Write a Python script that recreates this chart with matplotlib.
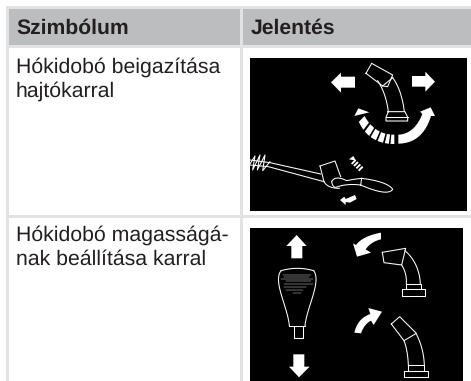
import matplotlib
matplotlib.use("Agg")
import matplotlib.pyplot as plt
from matplotlib.patches import Polygon, Rectangle
import numpy as np

plt.rcParams['font.family'] = ['Liberation Sans', 'DejaVu Sans']
plt.rcParams['text.hinting'] = 'no_hinting'

headers = ["Szimbólum", "Jelentés"]
row_labels = ["Hókidobó beigazítása\nhajtókarral", "Hókidobó magasságá-\nnak beállítása karral"]
TEXT = "#231f20"; HEAD = "#bcbdbf"; RULE = "#e1e2e3"

fig = plt.figure(figsize=(4.71, 3.81), dpi=100)
ax = fig.add_axes([0, 0, 1, 1])
ax.set_xlim(0, 471); ax.set_ylim(381, 0); ax.axis("off")

def rect(x0, y0, x1, y1, c, z=1):
    ax.add_patch(Rectangle((x0, y0), x1-x0, y1-y0, fc=c, ec="none", zorder=z))

# table frame
rect(6, 6, 471, 9, RULE)
rect(8, 9, 471, 44.5, HEAD)
rect(6, 44.5, 471, 47.5, RULE)
rect(6, 6, 8.5, 381, RULE)
rect(240, 6, 242.5, 381, RULE, 2)
rect(6, 215, 471, 217.7, RULE)
rect(250.3, 58.3, 466.7, 210.5, "black", 2)
rect(250.3, 228.3, 463, 381, "black", 2)

ax.text(16, 34, headers[0], fontsize=15.2, fontweight="bold", color=TEXT, ha="left", va="baseline", zorder=5)
ax.text(250.5, 34, headers[1], fontsize=15.2, fontweight="bold", color=TEXT, ha="left", va="baseline", zorder=5)
for y, s in zip((73, 241), row_labels):
    ax.text(16, y, s.split("\n")[0], fontsize=15.3, color=TEXT, va="baseline", zorder=5)
    ax.text(16, y+24, s.split("\n")[1], fontsize=15.3, color=TEXT, va="baseline", zorder=5)

# zoom-space helpers: icon outlines were read at 3x
def conv(pts, oy):
    a = np.asarray(pts, float)
    return np.c_[231 + a[:, 0]/3, oy + a[:, 1]/3]

def fill(pts, oy):
    ax.add_patch(Polygon(conv(pts, oy), closed=True, fc="white", ec="none", zorder=4))

def line(pts, oy, lw=0.75):
    p = conv(pts, oy)
    ax.plot(p[:, 0], p[:, 1], color="white", lw=lw, zorder=4, solid_joinstyle="round")

def smooth(pts, n=30):
    P = np.asarray(pts, float)
    t = np.linspace(0, 1, n)[:, None]
    if len(P) == 3:
        return (1-t)**2*P[0] + 2*(1-t)*t*P[1] + t**2*P[2]
    return (1-t)**3*P[0] + 3*(1-t)**2*t*P[1] + 3*(1-t)*t**2*P[2] + t**3*P[3]

# --- first picture
Y1 = 40
fill([(300,127),(330,98),(330,110),(372,110),(372,143),(330,143),(330,158)], Y1)
fill([(612,125),(583,95),(583,108),(543,108),(543,140),(583,140),(583,155)], Y1)
line([(405,100),(422,70),(485,105),(470,140),(455,138),(405,100)], Y1)
line([(455,138),(485,113)], Y1)
line(smooth([(440,122),(465,160),(472,215)]), Y1)
line(smooth([(485,113),(512,150),(520,215)]), Y1)
line([(470,215),(522,215),(530,232),(530,243),(465,243),(465,232),(472,215)], Y1)
line([(465,232),(530,232)], Y1)

outer = smooth([(502,311),(575,310),(600,228)])
inner = smooth([(502,284),(550,282),(574,222)])
fill(np.vstack([outer, [(612,228),(599,202),(567,215)], inner[::-1]]), Y1)

# dashed returning arrow
dash_outer = smooth([(490,312),(412,312),(382,242)], 120)
dash_inner = smooth([(490,284),(430,284),(399,225)], 120)
for a, b in [(0,10),(13,24),(28,44),(48,66),(70,88),(93,117)]:
    fill(np.vstack([dash_outer[a:b], dash_inner[a:b][::-1]]), Y1)
fill([(370,228),(382,205),(415,217)], Y1)

# crank
line([(57,360),(117,368),(269,402)], Y1)
line([(57,375),(112,380),(279,425)], Y1)
line([(57,372),(72,348),(65,390),(87,345),(79,390),(102,345),(95,392),(117,365)], Y1)
line([(267,378),(312,363),(329,410)], Y1)
line(np.vstack([[(267,378),(279,425)], smooth([(279,425),(290,445),(325,445)])]), Y1)
line(np.vstack([smooth([(302,425),(312,405),(347,422)]), smooth([(347,422),(365,418),(392,415)])]), Y1)
line(np.vstack([smooth([(302,425),(305,442),(315,442)]), smooth([(315,442),(345,430),(389,435)])]), Y1)
line([(392,415),(389,435)], Y1)
line(np.vstack([smooth([(392,415),(470,425),(485,448)]), smooth([(485,448),(470,470),(389,435)])]), Y1)
# small arrows by the crank
fill([(327,480),(340,470),(344,477),(372,465),(377,477),(357,488),(344,486),(344,495)], Y1)
fill([(354,358),(367,348),(375,362)], Y1)
for cx, cy in [(368,366),(375,372),(382,379),(389,386)]:
    fill([(cx-8,cy+4),(cx+4,cy-8),(cx+8,cy-4),(cx-4,cy+8)], Y1)

# --- second picture
Y2 = 210
fill([(197,75),(227,108),(214,108),(214,145),(181,145),(181,108),(166,108)], Y2)
fill([(204,502),(174,470),(187,470),(187,433),(220,433),(220,470),(236,470)], Y2)
knob_l = smooth([(150,182),(125,215),(170,290),(175,347)])
knob_r = smooth([(248,182),(272,215),(228,290),(222,347)])
knob_t = smooth([(150,182),(200,168),(248,182)])
line(knob_t, Y2); line(knob_l, Y2); line(knob_r, Y2)
line([(175,347),(222,347)], Y2)
line([(189,347),(189,385),(215,385),(215,347)], Y2)
for (x0, x1, y) in [(155,240,194),(160,235,200),(150,245,207),(165,240,214),(160,245,222),(160,225,232),
                    (165,215,240),(185,210,250)]:
    line([(x0,y),(x1,y)], Y2, lw=0.3)
# upper chute
line([(454,127),(524,115),(512,165),(459,158),(454,127)], Y2)
line(smooth([(522,122),(565,160),(568,222)]), Y2)
line(smooth([(512,165),(528,190),(526,222)]), Y2)
line([(524,222),(570,222),(570,238),(524,238),(524,222)], Y2)
line([(514,238),(582,238),(582,258),(514,258),(514,238)], Y2)
fill(np.vstack([smooth([(450,68),(395,78),(375,105)]), [(366,100),(378,140),(420,128),(404,118)],
                smooth([(404,118),(420,95),(450,88)])]), Y2)
# lower chute
line([(481,342),(506,320),(556,370),(519,392),(481,342)], Y2)
line(smooth([(519,392),(530,420),(532,465)]), Y2)
line(smooth([(556,372),(578,415),(580,465)]), Y2)
line([(530,465),(580,465),(580,482),(530,482),(530,465)], Y2)
line([(520,482),(590,482),(590,502),(520,502),(520,482)], Y2)
fill(np.vstack([smooth([(370,368),(380,325),(418,312)]), [(412,294),(453,305),(428,345),(420,332)],
                smooth([(420,332),(400,342),(390,370)])]), Y2)

fig.savefig("out.png", dpi=100, facecolor="white")
